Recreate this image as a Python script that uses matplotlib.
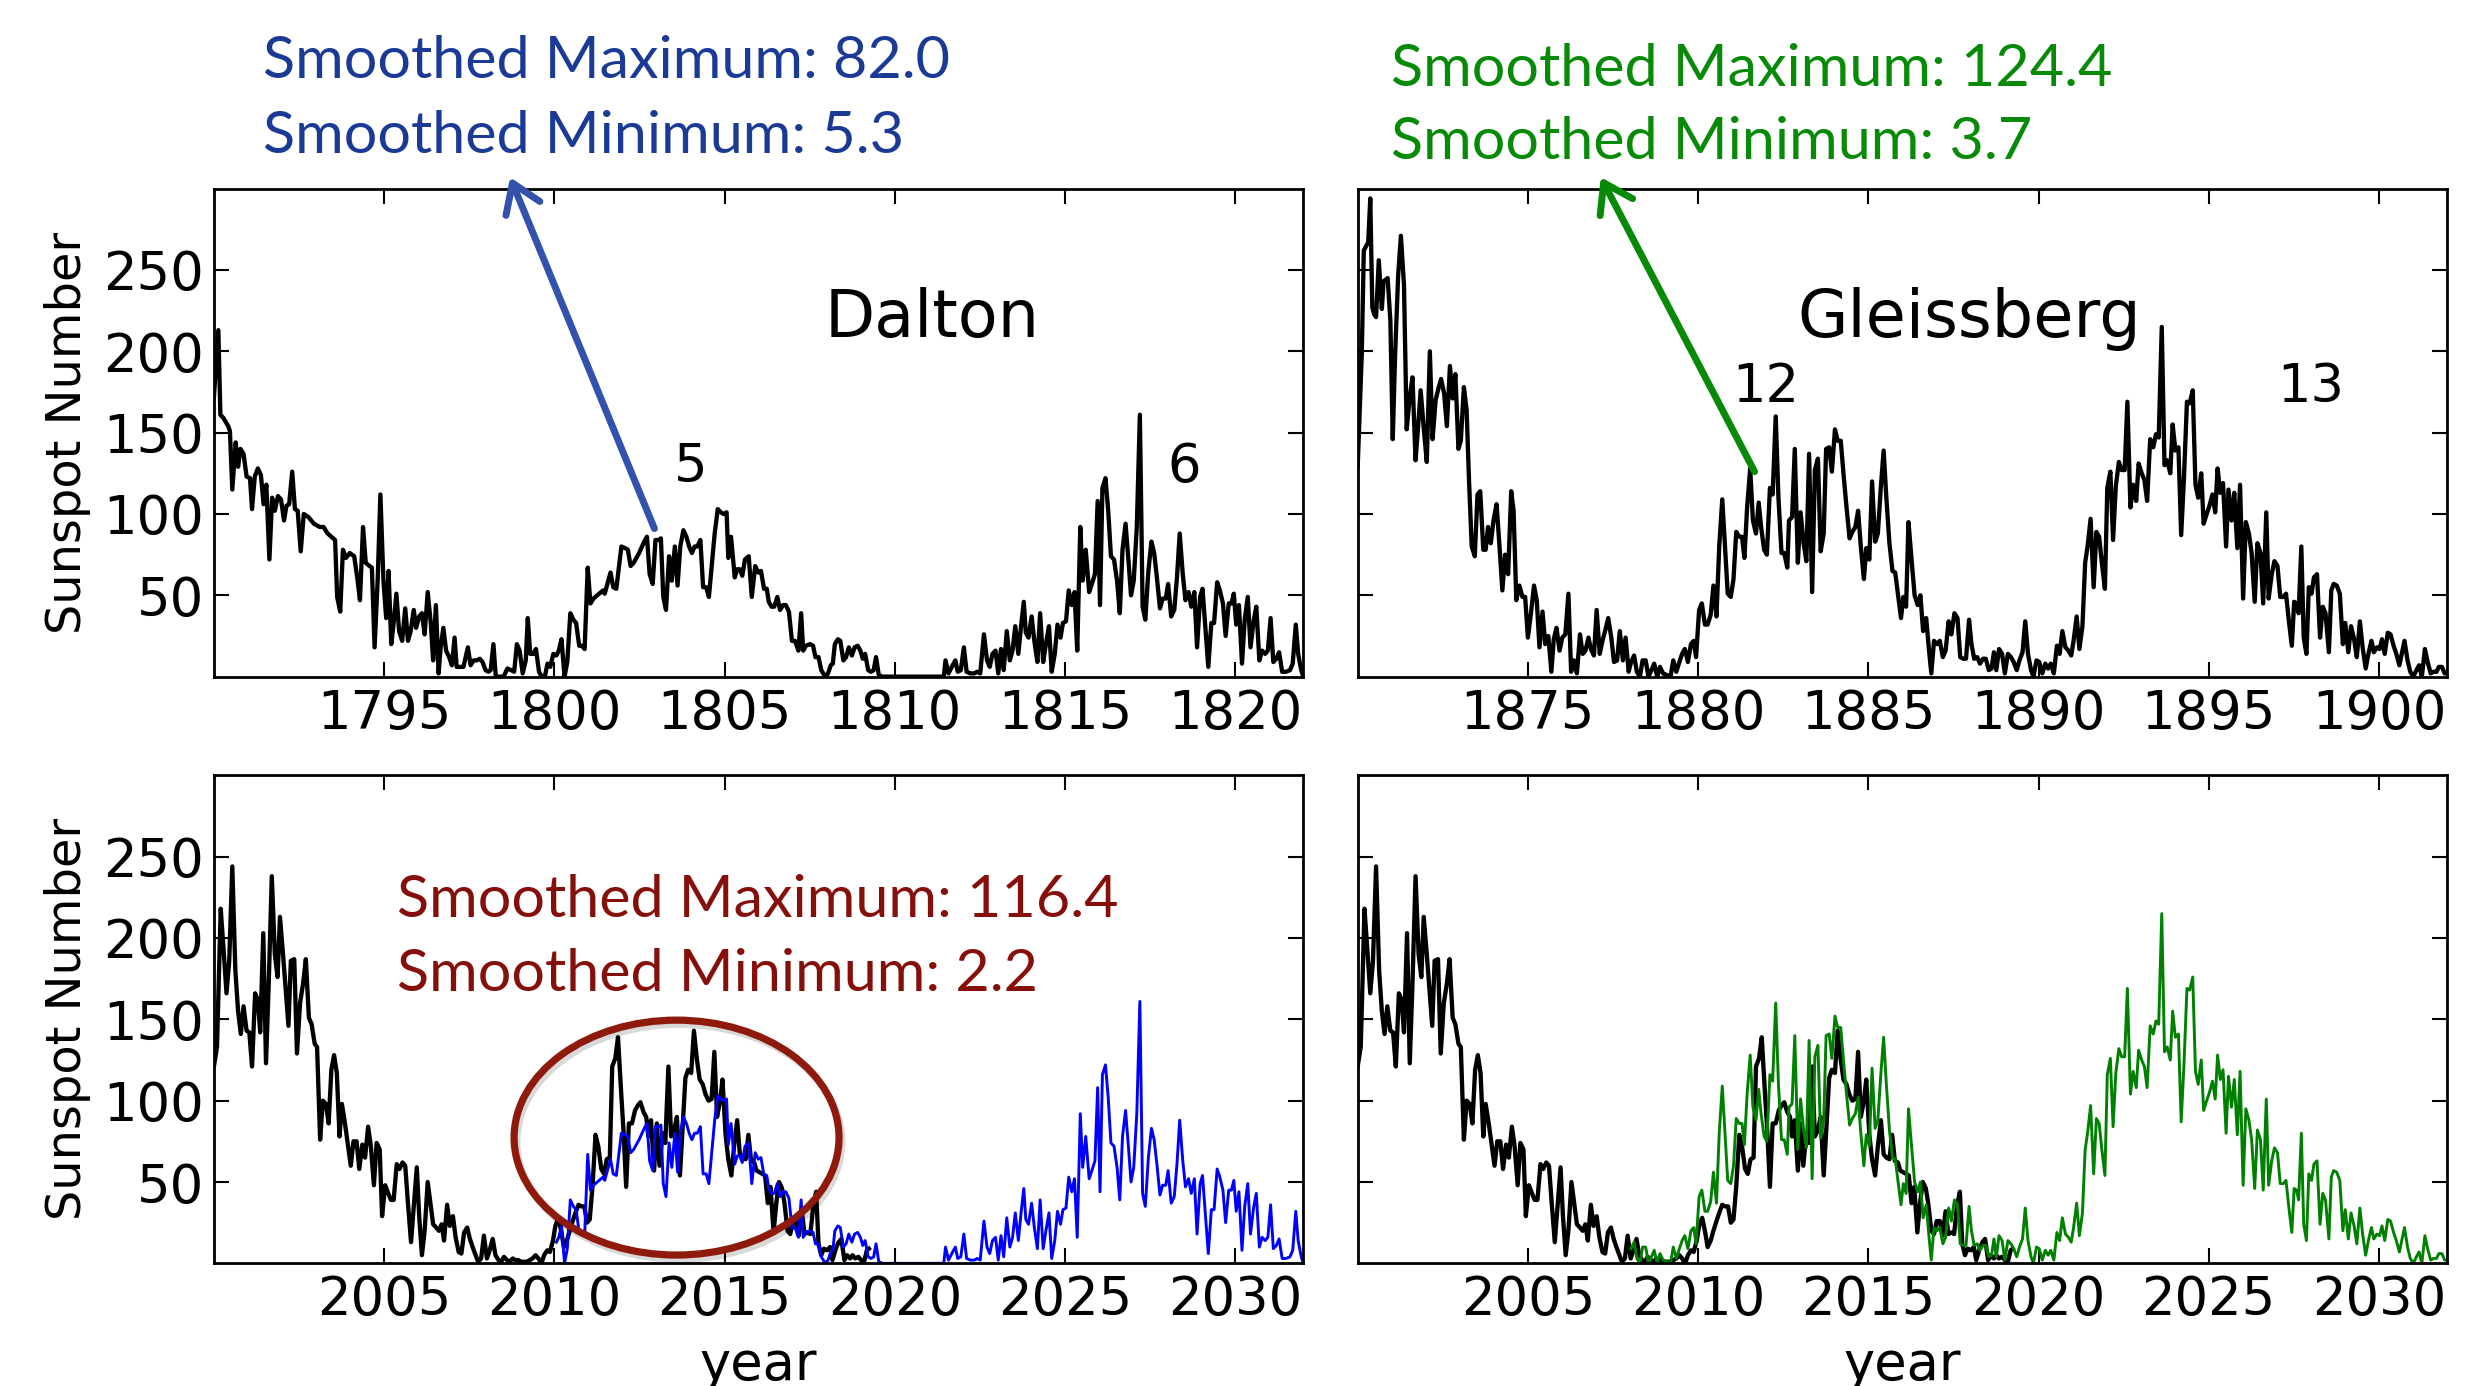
import numpy as np
import matplotlib
matplotlib.use("Agg")
import matplotlib.pyplot as plt
from matplotlib.patches import Ellipse
import matplotlib.patheffects as pe

# ---------------- data (years since start, sunspot number) ----------------
DALTON_START = 1790
dalton_off = [
    0.00, 0.13, 0.19, 0.28, 0.42, 0.47, 0.54, 0.64, 0.71, 0.78,
    0.87, 0.96, 1.06, 1.12, 1.20, 1.29, 1.38, 1.46, 1.54, 1.63,
    1.71, 1.79, 1.88, 1.97, 2.06, 2.13, 2.21, 2.30, 2.38, 2.46,
    2.55, 2.64, 2.78, 2.94, 3.11, 3.22, 3.34, 3.56, 3.62, 3.71,
    3.79, 3.88, 3.99, 4.12, 4.21, 4.29, 4.38, 4.46, 4.57, 4.64,
    4.72, 4.81, 4.89, 4.98, 5.06, 5.13, 5.21, 5.28, 5.36, 5.44,
    5.53, 5.62, 5.70, 5.78, 5.87, 5.94, 6.03, 6.11, 6.19, 6.28,
    6.37, 6.44, 6.52, 6.60, 6.66, 6.74, 6.82, 6.91, 6.99, 7.07,
    7.13, 7.21, 7.33, 7.46, 7.54, 7.63, 7.72, 7.81, 7.89, 7.98,
    8.06, 8.13, 8.21, 8.28, 8.39, 8.51, 8.62, 8.73, 8.82, 8.90,
    8.98, 9.07, 9.16, 9.22, 9.29, 9.38, 9.46, 9.55, 9.63, 9.72,
    9.80, 9.88, 9.97, 10.06, 10.13, 10.21, 10.30, 10.38, 10.47, 10.56,
    10.64, 10.73, 10.81, 10.89, 10.98, 11.06, 11.15, 11.26, 11.43, 11.48,
    11.56, 11.65, 11.73, 11.82, 11.90, 11.97, 12.08, 12.16, 12.24, 12.33,
    12.49, 12.64, 12.72, 12.80, 12.89, 12.97, 13.06, 13.13, 13.20, 13.28,
    13.37, 13.45, 13.54, 13.62, 13.70, 13.79, 13.88, 13.96, 14.04, 14.12,
    14.20, 14.29, 14.37, 14.46, 14.54, 14.63, 14.71, 14.80, 14.89, 14.97,
    15.06, 15.11, 15.19, 15.30, 15.37, 15.45, 15.52, 15.60, 15.71, 15.80,
    15.90, 15.99, 16.07, 16.16, 16.24, 16.30, 16.38, 16.46, 16.55, 16.63,
    16.72, 16.80, 16.89, 16.98, 17.07, 17.17, 17.25, 17.31, 17.39, 17.51,
    17.60, 17.67, 17.76, 17.84, 17.96, 18.04, 18.12, 18.18, 18.24, 18.33,
    18.40, 18.49, 18.57, 18.65, 18.74, 18.82, 18.91, 18.99, 19.06, 19.13,
    19.22, 19.30, 19.38, 19.45, 19.53, 19.64, 19.81, 21.44, 21.49, 21.58,
    21.70, 21.78, 21.85, 21.94, 22.03, 22.11, 22.22, 22.34, 22.42, 22.51,
    22.62, 22.71, 22.79, 22.87, 22.96, 23.04, 23.12, 23.20, 23.29, 23.38,
    23.46, 23.54, 23.63, 23.71, 23.79, 23.85, 23.93, 24.02, 24.10, 24.19,
    24.27, 24.36, 24.44, 24.53, 24.61, 24.70, 24.78, 24.87, 24.94, 25.03,
    25.11, 25.20, 25.28, 25.36, 25.45, 25.52, 25.61, 25.71, 25.79, 25.88,
    25.96, 26.03, 26.10, 26.19, 26.27, 26.35, 26.44, 26.53, 26.61, 26.69,
    26.78, 26.87, 26.94, 27.02, 27.11, 27.20, 27.28, 27.36, 27.45, 27.54,
    27.62, 27.70, 27.79, 27.87, 27.96, 28.03, 28.12, 28.21, 28.29, 28.37,
    28.46, 28.54, 28.63, 28.71, 28.80, 28.88, 28.97, 29.04, 29.13, 29.21,
    29.30, 29.38, 29.47, 29.55, 29.64, 29.72, 29.81, 29.89, 29.96, 30.03,
    30.11, 30.20, 30.28, 30.37, 30.45, 30.54, 30.62, 30.71, 30.79, 30.88,
    30.96, 31.04, 31.12, 31.21, 31.29, 31.38, 31.49, 31.61, 31.69, 31.78,
    31.85, 31.94, 32.00,
]
dalton_ssn = [
    172, 213, 161, 159, 154, 151, 115, 144, 129, 140,
    137, 123, 122, 103, 123, 128, 124, 106, 118, 72,
    110, 102, 111, 109, 96, 105, 106, 126, 103, 102,
    77, 100, 98, 94, 92, 92, 88, 84, 49, 40,
    78, 73, 76, 74, 61, 47, 92, 70, 68, 67,
    18, 59, 112, 59, 36, 65, 20, 33, 51, 28,
    22, 42, 22, 28, 41, 30, 37, 39, 26, 52,
    33, 10, 44, 2, 18, 30, 16, 12, 7, 24,
    6, 6, 6, 18, 7, 10, 10, 11, 9, 4,
    3, 4, 20, 0, 0, 0, 5, 4, 3, 20,
    16, 2, 10, 36, 14, 14, 17, 3, 0, 0,
    8, 6, 14, 13, 16, 23, 0, 9, 39, 35,
    33, 19, 19, 17, 67, 45, 48, 50, 53, 51,
    57, 64, 55, 54, 68, 80, 79, 78, 68, 70,
    76, 83, 86, 63, 57, 84, 84, 85, 49, 41,
    74, 59, 80, 56, 80, 90, 86, 80, 76, 80,
    80, 84, 55, 55, 49, 70, 88, 103, 101, 100,
    101, 73, 86, 61, 66, 66, 62, 72, 74, 49,
    68, 64, 65, 54, 54, 46, 43, 43, 49, 41,
    44, 44, 40, 22, 22, 16, 39, 16, 19, 20,
    19, 12, 12, 4, 0, 2, 7, 8, 20, 23,
    22, 10, 12, 18, 13, 18, 19, 16, 11, 14,
    4, 3, 4, 12, 1, 0, 0, 0, 10, 2,
    7, 10, 3, 4, 18, 3, 2, 2, 3, 2,
    26, 10, 6, 14, 16, 2, 17, 4, 28, 10,
    16, 31, 14, 31, 46, 27, 24, 37, 22, 9,
    39, 9, 20, 31, 3, 14, 32, 24, 33, 34,
    53, 44, 52, 16, 92, 59, 78, 52, 57, 63,
    108, 44, 116, 122, 102, 74, 72, 59, 39, 78,
    94, 70, 50, 59, 92, 161, 43, 35, 65, 83,
    76, 61, 42, 48, 48, 57, 37, 41, 61, 88,
    63, 47, 52, 43, 52, 18, 49, 54, 29, 6,
    33, 33, 58, 53, 45, 25, 45, 45, 51, 32,
    44, 8, 35, 49, 18, 34, 43, 10, 16, 14,
    16, 36, 9, 11, 15, 3, 3, 4, 8, 32,
    14, 4, 0,
]

GLEISS_START = 1870
gleiss_off = [
    0.00, 0.12, 0.18, 0.26, 0.31, 0.37, 0.43, 0.48, 0.54, 0.62,
    0.71, 0.76, 0.88, 0.96, 1.03, 1.10, 1.19, 1.27, 1.36, 1.44,
    1.53, 1.61, 1.70, 1.78, 1.85, 1.94, 2.03, 2.12, 2.20, 2.29,
    2.37, 2.45, 2.54, 2.62, 2.71, 2.79, 2.87, 2.96, 3.03, 3.12,
    3.20, 3.27, 3.35, 3.44, 3.52, 3.60, 3.69, 3.76, 3.83, 3.91,
    3.99, 4.08, 4.16, 4.25, 4.33, 4.42, 4.51, 4.58, 4.66, 4.75,
    4.84, 4.92, 5.00, 5.09, 5.18, 5.26, 5.34, 5.43, 5.51, 5.60,
    5.69, 5.76, 5.84, 5.93, 6.01, 6.10, 6.19, 6.27, 6.35, 6.44,
    6.53, 6.61, 6.69, 6.78, 6.85, 6.94, 7.02, 7.11, 7.19, 7.28,
    7.36, 7.45, 7.53, 7.62, 7.70, 7.79, 7.87, 7.96, 8.03, 8.12,
    8.20, 8.29, 8.37, 8.46, 8.54, 8.63, 8.71, 8.80, 8.88, 8.97,
    9.08, 9.19, 9.27, 9.36, 9.45, 9.53, 9.61, 9.70, 9.79, 9.87,
    9.94, 10.03, 10.11, 10.20, 10.28, 10.37, 10.45, 10.54, 10.62, 10.71,
    10.79, 10.87, 10.96, 11.04, 11.12, 11.21, 11.29, 11.36, 11.44, 11.53,
    11.61, 11.70, 11.78, 11.85, 11.94, 12.02, 12.11, 12.19, 12.28, 12.36,
    12.45, 12.53, 12.62, 12.67, 12.76, 12.84, 12.93, 13.01, 13.10, 13.18,
    13.26, 13.35, 13.43, 13.52, 13.60, 13.69, 13.76, 13.85, 13.93, 14.02,
    14.10, 14.19, 14.27, 14.36, 14.45, 14.53, 14.62, 14.70, 14.78, 14.87,
    14.94, 15.03, 15.11, 15.20, 15.28, 15.37, 15.45, 15.53, 15.62, 15.71,
    15.79, 15.87, 15.96, 16.03, 16.11, 16.18, 16.27, 16.36, 16.45, 16.53,
    16.61, 16.70, 16.78, 16.85, 16.93, 17.02, 17.10, 17.19, 17.27, 17.36,
    17.44, 17.53, 17.62, 17.70, 17.79, 17.87, 17.96, 18.03, 18.11, 18.20,
    18.28, 18.37, 18.45, 18.54, 18.62, 18.69, 18.76, 18.84, 18.93, 19.01,
    19.10, 19.19, 19.27, 19.36, 19.44, 19.53, 19.61, 19.69, 19.78, 19.85,
    19.94, 20.02, 20.11, 20.20, 20.28, 20.36, 20.45, 20.54, 20.62, 20.70,
    20.79, 20.88, 20.96, 21.03, 21.12, 21.20, 21.29, 21.37, 21.44, 21.53,
    21.62, 21.70, 21.78, 21.86, 21.95, 22.02, 22.11, 22.19, 22.27, 22.36,
    22.44, 22.53, 22.61, 22.70, 22.78, 22.87, 22.94, 23.03, 23.11, 23.19,
    23.28, 23.37, 23.45, 23.53, 23.62, 23.70, 23.78, 23.87, 23.94, 24.02,
    24.11, 24.19, 24.27, 24.36, 24.44, 24.53, 24.61, 24.69, 24.78, 24.85,
    24.94, 25.02, 25.11, 25.19, 25.26, 25.34, 25.42, 25.51, 25.58, 25.67,
    25.75, 25.84, 25.92, 26.01, 26.09, 26.18, 26.26, 26.35, 26.43, 26.52,
    26.60, 26.69, 26.76, 26.85, 26.93, 27.02, 27.10, 27.19, 27.27, 27.35,
    27.44, 27.51, 27.58, 27.64, 27.72, 27.79, 27.87, 27.94, 28.02, 28.09,
    28.18, 28.27, 28.35, 28.43, 28.53, 28.60, 28.67, 28.76, 28.85, 28.94,
    29.01, 29.10, 29.18, 29.27, 29.35, 29.44, 29.52, 29.61, 29.69, 29.78,
    29.85, 29.94, 30.02, 30.09, 30.17, 30.26, 30.34, 30.43, 30.51, 30.60,
    30.67, 30.75, 30.84, 30.92, 31.01, 31.10, 31.18, 31.26, 31.35, 31.43,
    31.52, 31.60, 31.69, 31.76, 31.85, 31.93, 32.00,
]
gleiss_ssn = [
    129, 198, 262, 265, 267, 294, 227, 223, 221, 256,
    226, 243, 245, 219, 146, 198, 247, 271, 241, 152,
    172, 184, 133, 155, 176, 153, 132, 200, 146, 170,
    177, 183, 174, 154, 191, 171, 186, 140, 145, 178,
    164, 121, 80, 74, 112, 114, 78, 78, 92, 82,
    96, 106, 82, 53, 75, 63, 114, 102, 47, 56,
    49, 49, 24, 39, 56, 47, 18, 40, 20, 25,
    3, 23, 30, 16, 24, 26, 51, 3, 10, 2,
    26, 14, 16, 24, 17, 13, 41, 14, 22, 29,
    36, 24, 9, 10, 28, 10, 24, 3, 9, 13,
    3, 0, 10, 10, 0, 4, 8, 0, 6, 2,
    1, 0, 10, 3, 9, 14, 17, 9, 20, 22,
    12, 41, 45, 32, 32, 38, 56, 37, 80, 109,
    80, 51, 49, 60, 89, 86, 86, 73, 104, 128,
    96, 88, 107, 92, 78, 75, 116, 112, 160, 110,
    76, 76, 67, 96, 98, 140, 70, 101, 82, 71,
    137, 52, 127, 134, 77, 88, 140, 141, 126, 152,
    145, 145, 125, 104, 85, 89, 92, 102, 80, 60,
    79, 72, 120, 83, 88, 117, 139, 110, 82, 65,
    64, 51, 36, 49, 43, 95, 72, 50, 44, 50,
    28, 36, 17, 2, 22, 20, 22, 12, 16, 34,
    26, 39, 36, 12, 11, 11, 35, 20, 11, 12,
    8, 11, 11, 4, 5, 15, 4, 17, 14, 2,
    14, 12, 9, 4, 10, 15, 34, 14, 4, 0,
    10, 9, 2, 8, 5, 8, 2, 19, 14, 28,
    18, 16, 13, 22, 37, 17, 31, 70, 80, 97,
    55, 89, 86, 70, 54, 116, 126, 84, 117, 132,
    127, 127, 169, 104, 118, 108, 131, 125, 121, 108,
    146, 141, 149, 147, 215, 130, 133, 125, 155, 139,
    141, 87, 121, 169, 168, 176, 118, 110, 125, 94,
    100, 105, 112, 101, 128, 113, 119, 80, 115, 96,
    113, 79, 118, 48, 95, 88, 76, 46, 82, 76,
    45, 101, 48, 63, 71, 68, 49, 49, 51, 35,
    19, 46, 45, 39, 80, 24, 14, 55, 51, 61,
    63, 24, 43, 39, 15, 53, 57, 56, 51, 20,
    33, 15, 31, 23, 12, 34, 18, 5, 14, 22,
    15, 18, 17, 23, 14, 27, 26, 19, 14, 7,
    14, 22, 10, 3, 0, 4, 7, 0, 17, 9,
    2, 3, 3, 6, 6, 2, 2,
]

MODERN_START = 2000
modern_off = [
    0.00, 0.09, 0.20, 0.28, 0.37, 0.45, 0.54, 0.63, 0.71, 0.79,
    0.87, 0.96, 1.04, 1.12, 1.21, 1.29, 1.36, 1.45, 1.53, 1.61,
    1.70, 1.79, 1.87, 1.94, 2.03, 2.11, 2.19, 2.26, 2.36, 2.44,
    2.53, 2.62, 2.70, 2.79, 2.87, 2.96, 3.03, 3.12, 3.20, 3.29,
    3.37, 3.45, 3.53, 3.61, 3.69, 3.76, 3.85, 3.94, 4.02, 4.10,
    4.19, 4.27, 4.36, 4.44, 4.53, 4.61, 4.70, 4.78, 4.87, 4.94,
    5.03, 5.12, 5.20, 5.28, 5.37, 5.45, 5.54, 5.62, 5.70, 5.79,
    5.88, 5.96, 6.03, 6.11, 6.19, 6.28, 6.36, 6.44, 6.53, 6.61,
    6.69, 6.76, 6.85, 6.93, 7.02, 7.10, 7.19, 7.27, 7.35, 7.44,
    7.52, 7.60, 7.69, 7.76, 7.85, 7.93, 8.02, 8.10, 8.19, 8.27,
    8.36, 8.44, 8.52, 8.61, 8.69, 8.78, 8.85, 8.94, 9.02, 9.11,
    9.19, 9.28, 9.36, 9.45, 9.53, 9.62, 9.70, 9.79, 9.87, 9.96,
    10.03, 10.12, 10.20, 10.28, 10.37, 10.45, 10.54, 10.62, 10.71, 10.79,
    10.88, 10.96, 11.04, 11.12, 11.21, 11.29, 11.38, 11.46, 11.54, 11.63,
    11.70, 11.79, 11.87, 11.96, 12.03, 12.11, 12.19, 12.28, 12.37, 12.45,
    12.53, 12.62, 12.70, 12.76, 12.84, 12.93, 13.01, 13.09, 13.18, 13.26,
    13.35, 13.43, 13.52, 13.60, 13.69, 13.76, 13.85, 13.93, 14.02, 14.10,
    14.19, 14.27, 14.36, 14.44, 14.53, 14.62, 14.70, 14.78, 14.87, 14.94,
    15.03, 15.11, 15.20, 15.28, 15.37, 15.45, 15.53, 15.62, 15.70, 15.78,
    15.87, 15.94, 16.03, 16.11, 16.19, 16.27, 16.35, 16.44, 16.52, 16.60,
    16.69, 16.76, 16.85, 16.93, 17.01, 17.10, 17.18, 17.27, 17.35, 17.44,
    17.52, 17.61, 17.69, 17.76, 17.84, 17.92, 18.01, 18.10, 18.17, 18.27,
    18.35, 18.43, 18.52, 18.60, 18.69, 18.76, 18.84, 18.93, 19.01, 19.10,
    19.18, 19.24,
]
modern_ssn = [
    121, 133, 218, 194, 166, 186, 244, 180, 155, 141,
    158, 143, 142, 121, 166, 162, 142, 203, 123, 172,
    238, 190, 176, 213, 190, 168, 146, 186, 187, 129,
    160, 172, 187, 151, 147, 135, 133, 76, 100, 98,
    86, 119, 128, 117, 78, 98, 86, 72, 60, 75,
    75, 58, 73, 65, 84, 72, 48, 74, 70, 29,
    48, 43, 39, 39, 61, 58, 62, 60, 37, 13,
    37, 59, 29, 5, 20, 50, 37, 24, 22, 20,
    24, 14, 36, 23, 29, 16, 7, 6, 19, 22,
    15, 10, 5, 1, 3, 17, 3, 8, 15, 5,
    2, 1, 4, 2, 1, 3, 2, 2, 1, 1,
    1, 2, 3, 5, 3, 0, 5, 8, 7, 14,
    23, 28, 20, 10, 14, 20, 26, 31, 36, 35,
    35, 25, 27, 47, 79, 72, 58, 55, 64, 65,
    121, 126, 139, 106, 82, 47, 86, 86, 94, 97,
    99, 93, 90, 78, 88, 57, 86, 60, 80, 74,
    121, 78, 82, 90, 54, 80, 114, 119, 117, 143,
    125, 113, 110, 104, 100, 101, 130, 90, 100, 113,
    79, 64, 54, 72, 88, 67, 65, 64, 79, 63,
    62, 57, 56, 55, 54, 37, 47, 19, 37, 50,
    46, 37, 20, 18, 26, 26, 17, 32, 18, 19,
    18, 36, 44, 12, 5, 9, 8, 10, 2, 9,
    13, 15, 2, 5, 3, 5, 3, 4, 2, 1,
    8, 9,
]

# shifts used for the comparison in the bottom panels
DALTON_SHIFT = 210      # 1800 -> 2010
DALTON_FROM = 10.0      # years after 1790 where the overlay starts
GLEISS_SHIFT = 130      # 1878 -> 2008
GLEISS_FROM = 8.0

y_ticks = [50, 100, 150, 200, 250]
xt_dalton = [1795, 1800, 1805, 1810, 1815, 1820]
xt_gleiss = [1875, 1880, 1885, 1890, 1895, 1900]
xt_modern = [2005, 2010, 2015, 2020, 2025, 2030]

# ---------------- figure ----------------
plt.rcParams['font.family'] = ['DejaVu Sans']
fig = plt.figure(figsize=(24.73, 13.86), dpi=100)

W, H = 0.4405, 0.3521
ax_tl = fig.add_axes([0.0865, 0.5118, W, H])
ax_tr = fig.add_axes([0.5490, 0.5118, W, H])
ax_bl = fig.add_axes([0.0865, 0.0885, W, H])
ax_br = fig.add_axes([0.5490, 0.0885, W, H])

d_t = DALTON_START + np.array(dalton_off)
d_v = np.array(dalton_ssn, dtype=float)
g_t = GLEISS_START + np.array(gleiss_off)
g_v = np.array(gleiss_ssn, dtype=float)
m_t = MODERN_START + np.array(modern_off)
m_v = np.array(modern_ssn, dtype=float)

BLW = 3.1
CLW = 2.1

ax_tl.plot(d_t, d_v, color='k', lw=BLW)
ax_tr.plot(g_t, g_v, color='k', lw=BLW)

ax_bl.plot(m_t, m_v, color='k', lw=BLW)
sel = np.array(dalton_off) >= DALTON_FROM
ax_bl.plot(d_t[sel] + DALTON_SHIFT, d_v[sel], color='#0000ff', lw=CLW)

ax_br.plot(m_t, m_v, color='k', lw=BLW)
selg = np.array(gleiss_off) >= GLEISS_FROM
ax_br.plot(g_t[selg] + GLEISS_SHIFT, g_v[selg], color='#008000', lw=CLW)


def style(ax, x0, xticks, ylab=True):
    ax.set_xlim(x0, x0 + 32)
    ax.set_ylim(0, 300)
    ax.set_xticks(xticks)
    ax.set_yticks(y_ticks)
    ax.tick_params(direction='in', length=11, width=1.5, top=True, right=True,
                   labelsize=38)
    ax.tick_params(axis='x', pad=8)
    ax.tick_params(axis='y', pad=7, labelleft=ylab)
    for s in ax.spines.values():
        s.set_linewidth(2.0)
    if ylab:
        ax.set_ylabel('Sunspot Number', fontsize=34.5)
        ax.yaxis.set_label_coords(-0.1128, 0.5)


style(ax_tl, DALTON_START, xt_dalton)
style(ax_tr, GLEISS_START, xt_gleiss, ylab=False)
style(ax_bl, MODERN_START, xt_modern)
style(ax_br, MODERN_START, xt_modern, ylab=False)

for ax in (ax_bl, ax_br):
    ax.set_xlabel('year', fontsize=38)
    ax.xaxis.label.set_verticalalignment('baseline')
    ax.xaxis.set_label_coords(0.5, -0.239)

# panel labels
ax_tl.text(1811.1, 209, 'Dalton', fontsize=47, ha='center', va='baseline')
ax_tr.text(1887.95, 209, 'Gleissberg', fontsize=47, ha='center', va='baseline')
ax_tl.text(1804.0, 119.6, '5', fontsize=38, ha='center', va='baseline')
ax_tl.text(1818.5, 119.6, '6', fontsize=38, ha='center', va='baseline')
ax_tr.text(1882.0, 168.7, '12', fontsize=38, ha='center', va='baseline')
ax_tr.text(1898.0, 168.7, '13', fontsize=38, ha='center', va='baseline')

# annotation arrows
BLUE_TXT = '#1b3a96'
BLUE_ARR = '#3352ad'
GREEN = '#078a07'
RED = '#850f0a'

ax_tl.annotate('', xy=(1798.7, 307), xytext=(1802.94, 91),
               arrowprops=dict(arrowstyle='->,head_length=0.45,head_width=0.3',
                               color=BLUE_ARR, lw=5.0, shrinkA=0, shrinkB=0,
                               mutation_scale=44),
               annotation_clip=False)
ax_tr.annotate('', xy=(1877.14, 307), xytext=(1881.66, 126),
               arrowprops=dict(arrowstyle='->,head_length=0.45,head_width=0.3',
                               color=GREEN, lw=5.0, shrinkA=0, shrinkB=0,
                               mutation_scale=44),
               annotation_clip=False)

TXT_FONT = ['Lato', 'DejaVu Sans']
TXT_SIZE = 42.7
fig.text(0.1063, 0.9435, 'Smoothed Maximum: 82.0', color=BLUE_TXT,
         fontsize=TXT_SIZE, family=TXT_FONT, va='baseline')
fig.text(0.1063, 0.8898, 'Smoothed Minimum: 5.3', color=BLUE_TXT,
         fontsize=TXT_SIZE, family=TXT_FONT, va='baseline')
fig.text(0.5624, 0.9380, 'Smoothed Maximum: 124.4', color=GREEN,
         fontsize=TXT_SIZE, family=TXT_FONT, va='baseline')
fig.text(0.5624, 0.8851, 'Smoothed Minimum: 3.7', color=GREEN,
         fontsize=TXT_SIZE, family=TXT_FONT, va='baseline')
fig.text(0.1605, 0.3386, 'Smoothed Maximum: 116.4', color=RED,
         fontsize=TXT_SIZE, family=TXT_FONT, va='baseline')
fig.text(0.1605, 0.2850, 'Smoothed Minimum: 2.2', color=RED,
         fontsize=TXT_SIZE, family=TXT_FONT, va='baseline')

# highlight ellipse
ell = Ellipse((2013.59, 77.3), 9.545, 144.4, fill=False, edgecolor='#8e1a0b',
              lw=5.2, zorder=5,
              path_effects=[pe.SimpleLineShadow(offset=(2, -3), shadow_color='k',
                                                alpha=0.15),
                            pe.Normal()])
ax_bl.add_patch(ell)

fig.savefig('out.png', dpi=100)
